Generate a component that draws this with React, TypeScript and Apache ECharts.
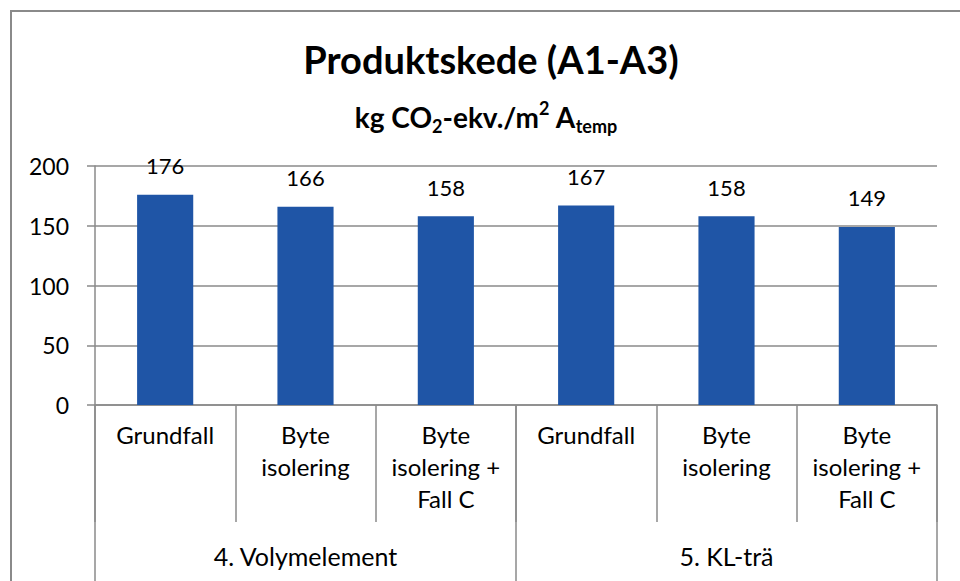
import React, { useEffect, useRef } from "react";
import * as echarts from "echarts";

const categories = [
  "Grundfall",
  "Byte\nisolering",
  "Byte\nisolering +\nFall C",
  "Grundfall",
  "Byte\nisolering",
  "Byte\nisolering +\nFall C",
];
const groups = ["4. Volymelement", "5. KL-trä"];
const values = [176, 166, 158, 167, 158, 149];
const yTicks = { min: 0, max: 200, interval: 50 };

const FONT = "Lato, 'Open Sans', sans-serif";
const GRAY = "#8a8a8a";
const BAR = "#1f55a6";

export default function App() {
  const ref = useRef<HTMLDivElement>(null);
  useEffect(() => {
    if (!ref.current) return;
    const chart = echarts.init(ref.current, undefined, { renderer: "svg" });
    chart.setOption({
      animation: false,
      backgroundColor: "#fff",
      grid: { left: 95, right: 23, top: 166, bottom: 176, containLabel: false },
      graphic: [
        {
          type: "rect",
          z: -10,
          shape: { x: 11, y: 11, width: 1000, height: 1000 },
          style: { fill: "none", stroke: GRAY, lineWidth: 2 },
        },
        {
          type: "text",
          x: 491,
          y: 59,
          style: {
            text: "Produktskede (A1-A3)",
            textAlign: "center",
            textVerticalAlign: "middle",
            font: `bold 38px ${FONT}`,
            fill: "#000",
          },
        },
        {
          type: "text",
          x: 486,
          y: 117,
          style: {
            text: "{b|kg CO}{sub|2}{b|-ekv./m}{sup|2}{b| A}{sub|temp}",
            textAlign: "center",
            textVerticalAlign: "middle",
            fill: "#000",
            rich: {
              b: { fontSize: 28, fontWeight: "bold", fontFamily: FONT, lineHeight: 36, fill: "#000" },
              sub: { fontSize: 18, fontWeight: "bold", fontFamily: FONT, lineHeight: 18, verticalAlign: "bottom", fill: "#000" },
              sup: { fontSize: 18, fontWeight: "bold", fontFamily: FONT, lineHeight: 18, verticalAlign: "top", fill: "#000" },
            },
          },
        },
      ],
      xAxis: [
        {
          type: "category",
          data: categories,
          position: "bottom",
          axisLine: { show: true, lineStyle: { color: GRAY, width: 1.5 } },
          axisTick: { show: true, length: 117, interval: 0, lineStyle: { color: GRAY, width: 1.5 } },
          axisLabel: {
            interval: 0,
            fontSize: 24,
            lineHeight: 32,
            margin: 13,
            color: "#000",
            fontFamily: FONT,
          },
        },
        {
          type: "category",
          data: groups,
          position: "bottom",
          axisLine: { show: false },
          axisTick: { show: true, length: 176, interval: 0, lineStyle: { color: GRAY, width: 1.5 } },
          axisLabel: {
            interval: 0,
            fontSize: 25,
            lineHeight: 32,
            margin: 135,
            color: "#000",
            fontFamily: FONT,
          },
        },
      ],
      yAxis: {
        type: "value",
        min: yTicks.min,
        max: yTicks.max,
        interval: yTicks.interval,
        axisLine: { show: true, lineStyle: { color: GRAY, width: 1.5 } },
        axisTick: { show: true, length: 8, lineStyle: { color: GRAY, width: 1.5 } },
        splitLine: { show: true, lineStyle: { color: GRAY, width: 1.5 } },
        axisLabel: { fontSize: 23, margin: 26, color: "#000", fontFamily: FONT },
      },
      series: [
        {
          type: "bar",
          xAxisIndex: 0,
          data: values,
          barWidth: "40%",
          itemStyle: { color: BAR },
          label: {
            show: true,
            position: "top",
            distance: 18,
            fontSize: 22,
            color: "#000",
            fontFamily: FONT,
          },
        },
      ],
    });
    return () => chart.dispose();
  }, []);
  return (
    <div
      ref={ref}
      style={{ position: "absolute", left: 0, top: 0, width: 960, height: 581 }}
    />
  );
}
